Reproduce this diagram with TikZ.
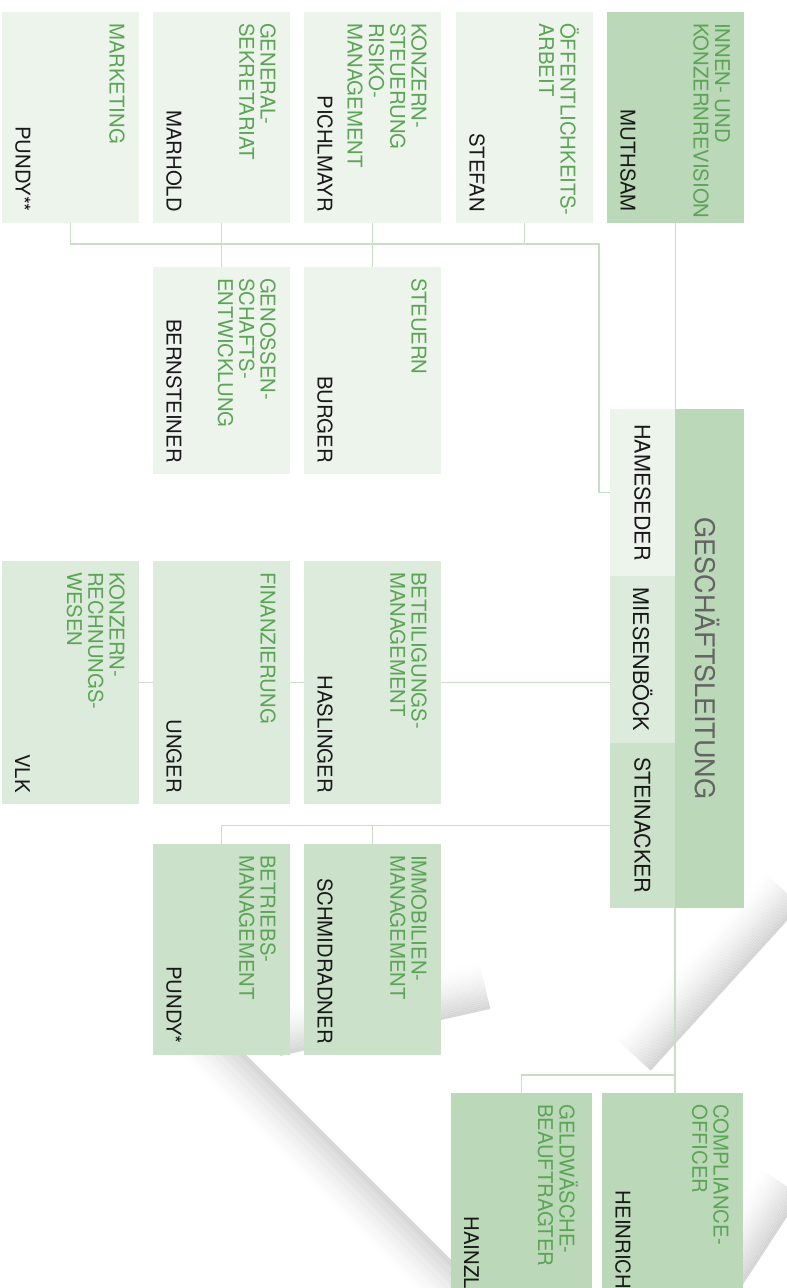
\documentclass[tikz,border=0pt]{standalone}
\usepackage{fontspec}
\setmainfont{TeX Gyre Heros}
\usetikzlibrary{calc}

\definecolor{hellgruen}{RGB}{237,244,236}
\definecolor{mittelgruen}{RGB}{221,235,220}
\definecolor{blassgruen}{RGB}{203,225,201}
\definecolor{dunkelgruen}{RGB}{187,216,184}
\definecolor{titelgruen}{RGB}{92,164,86}
\definecolor{liniengruen}{RGB}{200,223,198}
\definecolor{leitungsgrau}{RGB}{100,100,100}

\tikzset{
  kasten/.style={rectangle, inner sep=0pt, outer sep=0pt, anchor=north west},
  titel/.style={rotate=-90, anchor=north west, align=left, inner sep=0pt,
    text=titelgruen, font=\fontsize{20.3}{21.3}\selectfont},
  person/.style={rotate=-90, anchor=south east, inner sep=0pt,
    text=black!90, font=\fontsize{20.3}{21.3}\selectfont},
  vorstand/.style={rotate=-90, inner sep=0pt, text=black!90,
    font=\fontsize{21.5}{22}\selectfont},
  verbindung/.style={draw=liniengruen, line width=1.3pt},
}

% box, title and person of one unit
\newcommand{\einheit}[8]{%
  \node[kasten, fill=#6, minimum width=#4pt, minimum height=#5pt] (#1) at (#2,#3) {};
  \node[titel] (#1-t) at ($(#1.north east)+(-14,11)$) {#7};
  \node[person] (#1-p) at ($(#1.south west)+(13,-11)$) {#8};
}

\begin{document}
\begin{tikzpicture}[x=1pt,y=-1pt]
  \useasboundingbox (0,0) rectangle (787,1288);
  \clip (0,0) rectangle (787,1288);

  % watermark shadows
  \foreach \k in {0,...,24} {
    \pgfmathsetmacro{\op}{0.15*(1-\k/25)^1.6}
    \draw[line width=2.1pt, black, opacity=\op]
      ($(190,1000)+(-1.414*\k,1.414*\k)$) -- ($(480,1290)+(-1.414*\k,1.414*\k)$);
    \draw[line width=2.1pt, black, opacity=\op]
      ($(800,905)+(-1.48*\k,-1.35*\k)$) -- ($(650,1070)+(-1.48*\k,-1.35*\k)$);
    \draw[line width=2.1pt, black, opacity=\op]
      ($(800,1195)+(-1.66*\k,-1.1*\k)$) -- ($(735,1295)+(-1.66*\k,-1.1*\k)$);
    \draw[line width=2.1pt, black, opacity=\op]
      ($(280,1055)+(-0.44*\k,-1.95*\k)$) -- ($(490,1008)+(-0.44*\k,-1.95*\k)$);
  }

  % top row
  \einheit{mkt}{2}{12}{137}{211}{hellgruen}{MARKETING}{PUNDY**}
  \einheit{gen}{153}{12}{137}{211}{hellgruen}{GENERAL-\\SEKRETARIAT}{MARHOLD}
  \einheit{kst}{304}{12}{137}{211}{hellgruen}{KONZERN-\\STEUERUNG\\RISIKO-\\MANAGEMENT}{PICHLMAYR}
  \einheit{oef}{456}{12}{137}{211}{hellgruen}{ÖFFENTLICHKEITS-\\ARBEIT}{STEFAN}
  \einheit{inr}{607}{12}{137}{211}{dunkelgruen}{INNEN- UND\\KONZERNREVISION}{MUTHSAM}

  \einheit{gno}{153}{267}{137}{207}{hellgruen}{GENOSSEN-\\SCHAFTS-\\ENTWICKLUNG}{BERNSTEINER}
  \einheit{ste}{304}{267}{137}{207}{hellgruen}{STEUERN}{BURGER}

  \einheit{krw}{2}{561}{137}{243}{mittelgruen}{KONZERN-\\RECHNUNGS-\\WESEN}{VLK}
  \einheit{fin}{153}{561}{137}{243}{mittelgruen}{FINANZIERUNG}{UNGER}
  \einheit{bet}{304}{561}{137}{243}{mittelgruen}{BETEILIGUNGS-\\MANAGEMENT}{HASLINGER}

  \einheit{bem}{153}{844}{137}{211}{blassgruen}{BETRIEBS-\\MANAGEMENT}{PUNDY*}
  \einheit{imm}{304}{844}{137}{211}{blassgruen}{IMMOBILIEN-\\MANAGEMENT}{SCHMIDRADNER}

  \einheit{gwb}{451}{1093}{141}{207}{dunkelgruen}{GELDWÄSCHE-\\BEAUFTRAGTER}{HAINZL}
  \einheit{coo}{602}{1093}{141}{207}{dunkelgruen}{COMPLIANCE-\\OFFICER}{HEINRICH}

  % management board
  \node[kasten, fill=dunkelgruen, minimum width=69pt, minimum height=499pt] (gl) at (675,409) {};
  \node[rotate=-90, inner sep=0pt, text=leitungsgrau, font=\fontsize{27}{30}\selectfont] (gl-t) at ($(gl.center)+(-2,0)$) {GESCHÄFTSLEITUNG};
  \node[kasten, fill=hellgruen, minimum width=65pt, minimum height=167pt] (ham) at (610,409) {};
  \node[kasten, fill=mittelgruen, minimum width=65pt, minimum height=167pt] (mie) at (610,576) {};
  \node[kasten, fill=blassgruen, minimum width=65pt, minimum height=165pt] (stn) at (610,743) {};
  \node[vorstand] (ham-p) at (ham.center) {HAMESEDER};
  \node[vorstand] (mie-p) at (mie.center) {MIESENBÖCK};
  \node[vorstand] (stn-p) at (stn.center) {STEINACKER};

  % connectors
  \coordinate (bus) at (599,244);
  \coordinate (cbus) at (675,1075);
  \draw[verbindung] (inr.south) -- (inr.south |- gl.north);
  \draw[verbindung] (ham.west) -| (bus) -| (mkt.south);
  \draw[verbindung] (gen.south) -- (gno.north);
  \draw[verbindung] (kst.south) -- (ste.north);
  \draw[verbindung] (oef.south) -- (oef.south |- bus);
  \draw[verbindung] (bet.east) -- (bet.east -| mie.west);
  \draw[verbindung] (bet.west) -- (fin.east);
  \draw[verbindung] (fin.west) -- (krw.east);
  \draw[verbindung] (stn.west) -| (bem.north);
  \draw[verbindung] (imm.north) -- (imm.north |- stn.west);
  \draw[verbindung] (gl.south west) -- (gl.south west |- coo.north);
  \draw[verbindung] (cbus) -| (gwb.north);
\end{tikzpicture}
\end{document}
